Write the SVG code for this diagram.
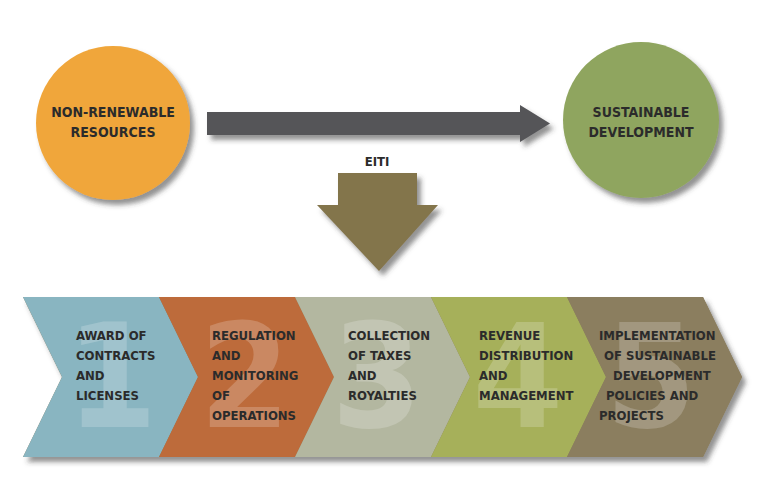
<svg xmlns="http://www.w3.org/2000/svg" width="771" height="493" viewBox="0 0 771 493">
  <defs>
    <filter id="shadow" x="-20%" y="-20%" width="150%" height="160%">
      <feGaussianBlur in="SourceAlpha" stdDeviation="2.5"/>
      <feOffset dx="4" dy="5" result="blur"/>
      <feFlood flood-color="#3a3a3a" flood-opacity="0.55"/>
      <feComposite in2="blur" operator="in"/>
      <feMerge>
        <feMergeNode/>
        <feMergeNode in="SourceGraphic"/>
      </feMerge>
    </filter>
  </defs>
  <style>
    .lbl { font-family: "DejaVu Sans Condensed", "DejaVu Sans", sans-serif; font-stretch: condensed; font-weight: bold; fill: #2b2b2b; }
    .circ { font-size: 14px; text-anchor: middle; }
    .step { font-size: 13px; }
    .num { font-family: "DejaVu Sans Condensed", "DejaVu Sans", sans-serif; font-stretch: condensed; font-weight: bold; font-size: 145px; fill: #ffffff; fill-opacity: 0.2; text-anchor: middle; }
  </style>
  <rect width="771" height="493" fill="#ffffff"/>

  <!-- connectors -->
  <g id="connectors">
    <polygon id="flow-arrow" points="207,112 520,112 520,105 550,123.5 520,142 520,135 207,135" fill="#555558" filter="url(#shadow)"/>
    <polygon id="eiti-arrow" points="338,173 417,173 417,205 438,205 379,271 317,205 338,205" fill="#83744c" filter="url(#shadow)"/>
    <text class="lbl" x="377" y="166" font-size="13" text-anchor="middle">EITI</text>
  </g>

  <!-- source node -->
  <g id="non-renewable">
    <circle cx="113" cy="123" r="77" fill="#f0a63a" filter="url(#shadow)"/>
    <text class="lbl circ" x="113" y="117">NON-RENEWABLE</text>
    <text class="lbl circ" x="113" y="137">RESOURCES</text>
  </g>

  <!-- target node -->
  <g id="sustainable">
    <circle cx="641" cy="120" r="78" fill="#8fa55e" filter="url(#shadow)"/>
    <text class="lbl circ" x="641" y="117">SUSTAINABLE</text>
    <text class="lbl circ" x="641" y="137">DEVELOPMENT</text>
  </g>

  <!-- value chain band -->
  <polygon points="23,297 703,297 742,377 703,457 23,457 62,377" fill="#8b7e5f" filter="url(#shadow)"/>

  <g id="step1">
    <polygon points="23,297 159,297 198,377 159,457 23,457 62,377" fill="#89b5c1"/>
    <text class="num" x="112" y="427">1</text>
    <text class="lbl step" x="76" y="340">AWARD OF</text>
    <text class="lbl step" x="76" y="360">CONTRACTS</text>
    <text class="lbl step" x="76" y="380">AND</text>
    <text class="lbl step" x="76" y="400">LICENSES</text>
  </g>

  <g id="step2">
    <polygon points="159,297 295,297 334,377 295,457 159,457 198,377" fill="#bd6b3b"/>
    <text class="num" x="245" y="427">2</text>
    <text class="lbl step" x="212" y="340">REGULATION</text>
    <text class="lbl step" x="212" y="360">AND</text>
    <text class="lbl step" x="212" y="380">MONITORING</text>
    <text class="lbl step" x="212" y="400">OF</text>
    <text class="lbl step" x="212" y="420">OPERATIONS</text>
  </g>

  <g id="step3">
    <polygon points="295,297 431,297 470,377 431,457 295,457 334,377" fill="#b3b7a0"/>
    <text class="num" x="377" y="427">3</text>
    <text class="lbl step" x="348" y="340">COLLECTION</text>
    <text class="lbl step" x="348" y="360">OF TAXES</text>
    <text class="lbl step" x="348" y="380">AND</text>
    <text class="lbl step" x="348" y="400">ROYALTIES</text>
  </g>

  <g id="step4">
    <polygon points="431,297 567,297 606,377 567,457 431,457 470,377" fill="#a6b05a"/>
    <text class="num" x="518" y="427">4</text>
    <text class="lbl step" x="479" y="340">REVENUE</text>
    <text class="lbl step" x="479" y="360">DISTRIBUTION</text>
    <text class="lbl step" x="479" y="380">AND</text>
    <text class="lbl step" x="479" y="400">MANAGEMENT</text>
  </g>

  <g id="step5">
    <polygon points="567,297 703,297 742,377 703,457 567,457 606,377" fill="#8b7e5f"/>
    <text class="num" x="651" y="427">5</text>
    <text class="lbl step" x="599" y="340">IMPLEMENTATION</text>
    <text class="lbl step" x="604" y="360">OF SUSTAINABLE</text>
    <text class="lbl step" x="613" y="380">DEVELOPMENT</text>
    <text class="lbl step" x="606" y="400">POLICIES AND</text>
    <text class="lbl step" x="599" y="420">PROJECTS</text>
  </g>
</svg>
